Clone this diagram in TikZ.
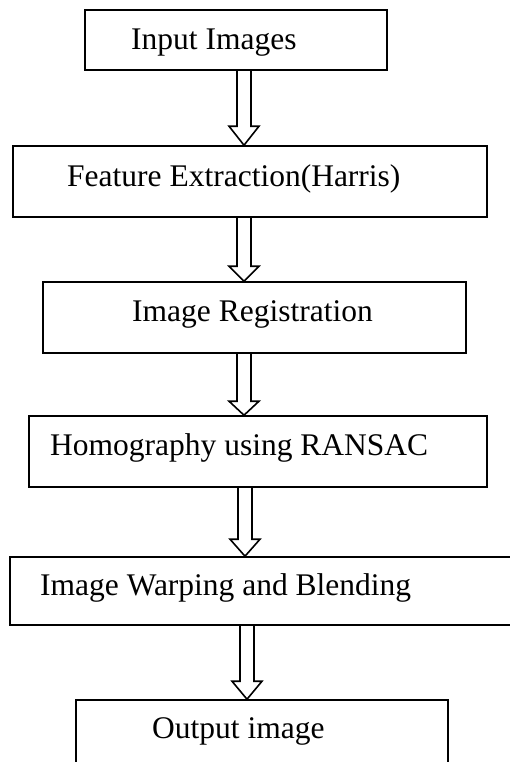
\documentclass[tikz,border=0pt]{standalone}
\usepackage{fontspec}
\setmainfont{Liberation Serif}
\usetikzlibrary{calc}
\newcommand{\hollowarrow}[4]{% #1 from node, #2 to node, #3 centre x, #4 head height
  \draw[harrow] let \p1=(#1.south), \p2=(#2.north) in
    (#3bp-7bp,\y1) -- (#3bp-7bp,\y2+#4bp) -- (#3bp-15bp,\y2+#4bp) -- (#3bp,\y2)
    -- (#3bp+15bp,\y2+#4bp) -- (#3bp+7bp,\y2+#4bp) -- (#3bp+7bp,\y1);}
\begin{document}
\begin{tikzpicture}[x=1bp,y=-1bp,
  box/.style={draw, line width=1.6bp, inner sep=0pt},
  lbl/.style={anchor=base west, inner sep=0pt, font=\fontsize{31.5bp}{36bp}\selectfont},
  harrow/.style={draw, line width=1.6bp, line join=miter}]
\useasboundingbox (0,0) rectangle (510,762);
\clip (0,0) rectangle (510,762);
% boxes
\node[box, minimum width=302bp, minimum height=60bp] (b1) at (236,40) {};
\node[box, minimum width=474bp, minimum height=71bp] (b2) at (250,181.5) {};
\node[box, minimum width=423bp, minimum height=71bp] (b3) at (254.5,317.5) {};
\node[box, minimum width=458bp, minimum height=71bp] (b4) at (258,451.5) {};
\node[box, minimum width=510bp, minimum height=68bp] (b5) at (265,591) {};
\node[box, minimum width=372bp, minimum height=80bp] (b6) at (262,740) {};
% texts
\node[lbl] (t1) at (131,50) {Input Images};
\node[lbl] (t2) at (67,186) {Feature Extraction(Harris)};
\node[lbl] (t3) at (132,321) {Image Registration};
\node[lbl] (t4) at (50,455) {Homography using RANSAC};
\node[lbl] (t5) at (40,595) {Image Warping and Blending};
\node[lbl] (t6) at (152,738) {Output image};
% arrows
\hollowarrow{b1}{b2}{244}{19}
\hollowarrow{b2}{b3}{244}{15}
\hollowarrow{b3}{b4}{244}{14}
\hollowarrow{b4}{b5}{245}{17}
\hollowarrow{b5}{b6}{247}{18}
\end{tikzpicture}
\end{document}
